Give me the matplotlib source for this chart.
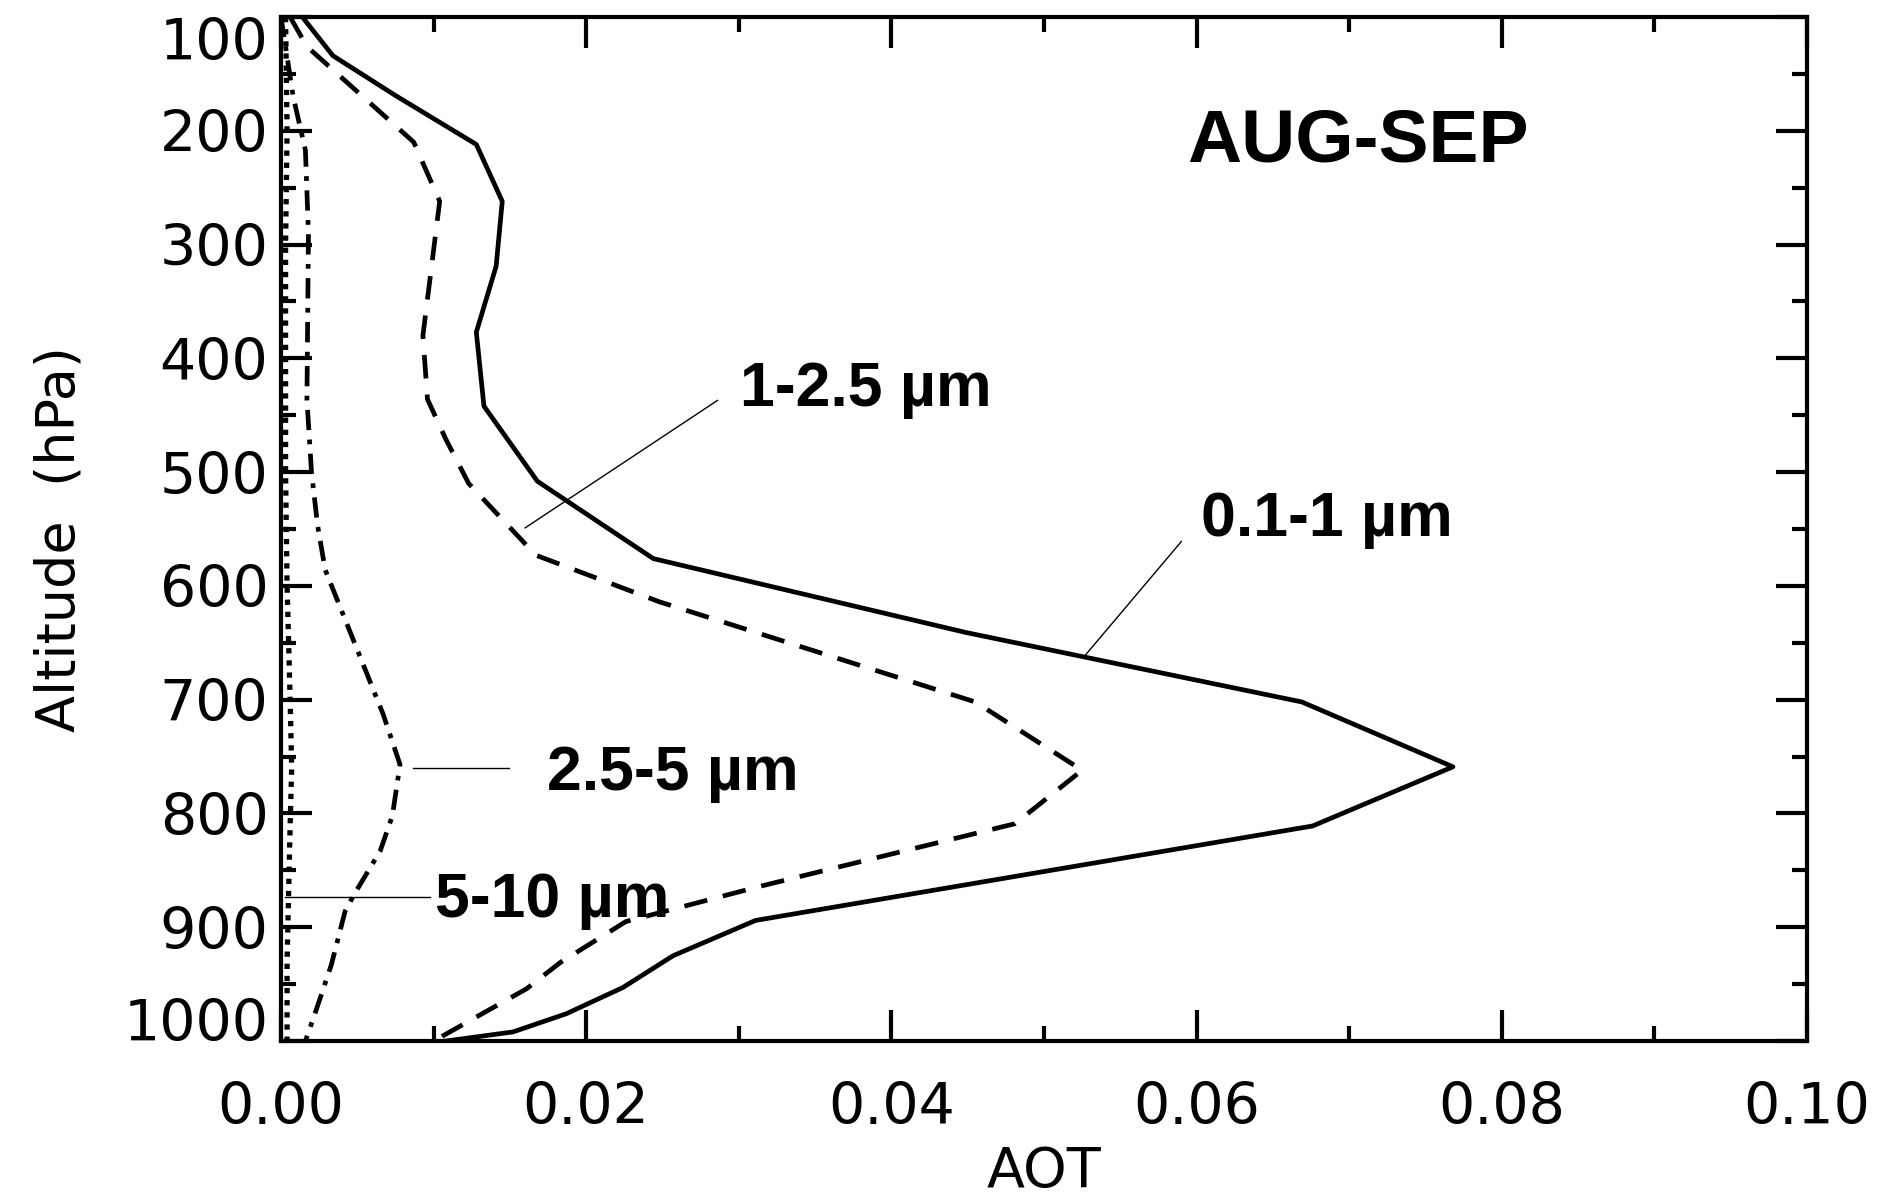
import matplotlib
matplotlib.use('Agg')
import matplotlib.pyplot as plt, numpy as np
from matplotlib.ticker import MultipleLocator, FormatStrFormatter

"""
AOT vertical profiles per size bin, AUG-SEP
"""

# 0.1-1 um (solid)
aot_fine = [0.0014, 0.0034, 0.0075, 0.0128, 0.0145, 0.0141, 0.0128, 0.0133, 0.0168, 0.0244,
            0.0449, 0.0669, 0.0768, 0.0676, 0.0311, 0.0257, 0.0224, 0.0187, 0.0152, 0.0108]
p_fine = [100, 134, 169, 212, 262, 319, 377, 442, 508, 576,
          641, 702, 759, 811, 894, 925, 953, 976, 992, 1000]

# 1-2.5 um (dashed)
aot_mid = [0.0006, 0.0017, 0.0087, 0.0104, 0.0093, 0.0096, 0.0108, 0.0123, 0.0167, 0.0248,
           0.0455, 0.0525, 0.0481, 0.0314, 0.0226, 0.0183, 0.0161, 0.0104]
p_mid = [100, 126, 210, 262, 380, 436, 471, 510, 573, 614,
         702, 762, 809, 864, 895, 931, 954, 997]

# 2.5-5 um (dash-dot)
aot_coarse = [0.0000, 0.0008, 0.0016, 0.0018, 0.0017, 0.0020, 0.0024, 0.0029, 0.0067, 0.0078,
              0.0073, 0.0065, 0.0048, 0.0042, 0.0033, 0.0023, 0.0016]
p_coarse = [100, 170, 217, 290, 436, 500, 547, 586, 713, 757,
            802, 833, 871, 886, 933, 973, 1000]

# 5-10 um (dotted)
aot_big = [0.0003, 0.0004, 0.0003, 0.0003, 0.0003, 0.0004, 0.0006, 0.0007, 0.0006, 0.0005, 0.0004, 0.0004]
p_big = [100, 200, 300, 400, 500, 600, 700, 760, 810, 870, 930, 1000]

xticks = [0.00, 0.02, 0.04, 0.06, 0.08, 0.10]
yticks = [100, 200, 300, 400, 500, 600, 700, 800, 900, 1000]

bold = dict(family=['Liberation Sans', 'DejaVu Sans'], weight='bold')

fig = plt.figure(figsize=(18.77, 11.97), dpi=100, facecolor='w')
ax = fig.add_axes([0.1497, 0.1303, 0.8130, 0.8555])

lw = 3.4
ax.plot(aot_fine, p_fine, c='k', lw=lw, ls='-')
ax.plot(aot_mid, p_mid, c='k', lw=lw, ls=(0, (5.0, 3.4)))
ax.plot(aot_coarse, p_coarse, c='k', lw=lw, ls=(0, (4.3, 2.0, 1.0, 2.0)))
ax.plot(aot_big, p_big, c='k', lw=3.8, ls=(0, (1.0, 1.3)), clip_on=False)

# labels with leader lines
ax.text(0.0594, 227, 'AUG-SEP', size=54, va='baseline', ha='left', **bold)

ax.plot([0.0286, 0.0160], [437, 549], c='k', lw=1)
ax.text(0.0301, 442, '1-2.5 \u00b5m', size=45, va='baseline', ha='left', **bold)

ax.plot([0.0590, 0.0527], [561, 661], c='k', lw=1)
ax.text(0.0603, 556, '0.1-1 \u00b5m', size=45, va='baseline', ha='left', **bold)

ax.plot([0.00865, 0.01494], [760, 760], c='k', lw=1)
ax.text(0.0174, 779, '2.5-5 \u00b5m', size=45, va='baseline', ha='left', **bold)

ax.plot([0.00026, 0.00976], [873, 873], c='k', lw=1)
ax.text(0.0101, 891, '5-10 \u00b5m', size=45, va='baseline', ha='left', **bold)

ax.set_xlim(0.0, 0.10)
ax.set_ylim(1000, 100)
ax.set_xticks(xticks)
ax.set_yticks(yticks)
ax.xaxis.set_minor_locator(MultipleLocator(0.01))
ax.yaxis.set_minor_locator(MultipleLocator(50))
ax.xaxis.set_major_formatter(FormatStrFormatter('%.2f'))

for s in ax.spines.values():
    s.set_linewidth(3.0)

ax.tick_params(which='both', direction='in', top=True, right=True, width=3.0, labelsize=41)
ax.tick_params(which='major', length=22)
ax.tick_params(which='minor', length=11)
ax.tick_params(axis='x', pad=29)
ax.tick_params(axis='y', pad=9)

# end labels on the y axis are pulled inside the frame
fig.canvas.draw()
ylabs = ax.get_yticklabels()
ylabs[0].set_va('top')        # 100, at the top
ylabs[-1].set_va('baseline')  # 1000, at the bottom

ax.set_xlabel('AOT', size=40)
ax.set_ylabel('Altitude  (hPa)', size=39)
ax.xaxis.set_label_coords(0.5, -0.102)
ax.yaxis.set_label_coords(-0.128, 0.49)

plt.savefig('out.png', dpi=100)
